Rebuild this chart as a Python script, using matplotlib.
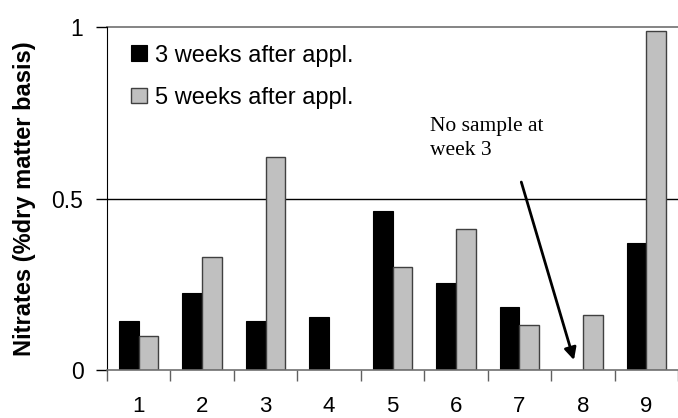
import numpy as np
import matplotlib.pyplot as plt

# data
sites = ['1', '2', '3', '4', '5', '6', '7', '8', '9']
week3 = [0.143, 0.224, 0.143, 0.155, 0.464, 0.254, 0.184, np.nan, 0.370]
week5 = [0.100, 0.328, 0.620, np.nan, 0.299, 0.410, 0.130, 0.159, 0.987]

plt.rcParams['font.family'] = ['Liberation Sans', 'DejaVu Sans']

fig = plt.figure(figsize=(6.78, 4.18), dpi=100)
ax = fig.add_axes([107 / 678, (418 - 370) / 418, 1 - 107 / 678, 343 / 418])

x = np.arange(1, len(sites) + 1)
w = 0.31
ax.bar(x - w / 2, week3, w, color='black', edgecolor='black', linewidth=0.8,
       label='3 weeks after appl.')
ax.bar(x + w / 2, week5, w, color='#c0c0c0', edgecolor='#404040', linewidth=1.0,
       label='5 weeks after appl.')

ax.set_xlim(0.5, 0.5 + 571 / 64)
ax.set_ylim(0, 1)

ax.axhline(0.5, color='black', linewidth=1.0, zorder=0)
ax.axhline(1.0, color='#707070', linewidth=1.2, zorder=0, clip_on=False)

ax.set_yticks([0, 0.5, 1])
ax.set_yticklabels(['0', '0.5', '1'], fontsize=16.5)
ax.tick_params(axis='y', length=8, width=1, color='black', pad=9)

# category boundaries as tick marks, labels at the centres
ax.set_xticks(np.arange(0.5, 9.6, 1))
ax.set_xticklabels([])
ax.tick_params(axis='x', which='major', length=8, width=1, color='#606060')
ax.set_xticks(x, minor=True)
ax.set_xticklabels(sites, minor=True, fontsize=16)
ax.tick_params(axis='x', which='minor', length=0, pad=19)

for s in ['top', 'right']:
    ax.spines[s].set_visible(False)
ax.spines['bottom'].set_color('#707070')
ax.spines['bottom'].set_linewidth(1.2)
ax.spines['left'].set_color('black')

ax.set_ylabel('Nitrates (%dry matter basis)', fontsize=17, fontweight='bold')
ax.yaxis.set_label_coords(-0.125, 0.5)

ax.legend(loc='upper left', bbox_to_anchor=(0.018, 0.99), frameon=False, fontsize=17,
          handlelength=0.66, handleheight=0.64, handletextpad=0.34, labelspacing=0.85,
          borderaxespad=0.2)

ax.text(5.59, 0.738, 'No sample at\nweek 3', family=['Liberation Serif', 'DejaVu Serif'],
        fontsize=15.5, va='top', ha='left', linespacing=1.35)
ax.annotate('', xy=(7.86, 0.029), xytext=(7.03, 0.548),
            arrowprops=dict(arrowstyle='-|>', color='black', lw=2, mutation_scale=18,
                            shrinkA=0, shrinkB=0))

fig.savefig('out.png', dpi=100)
